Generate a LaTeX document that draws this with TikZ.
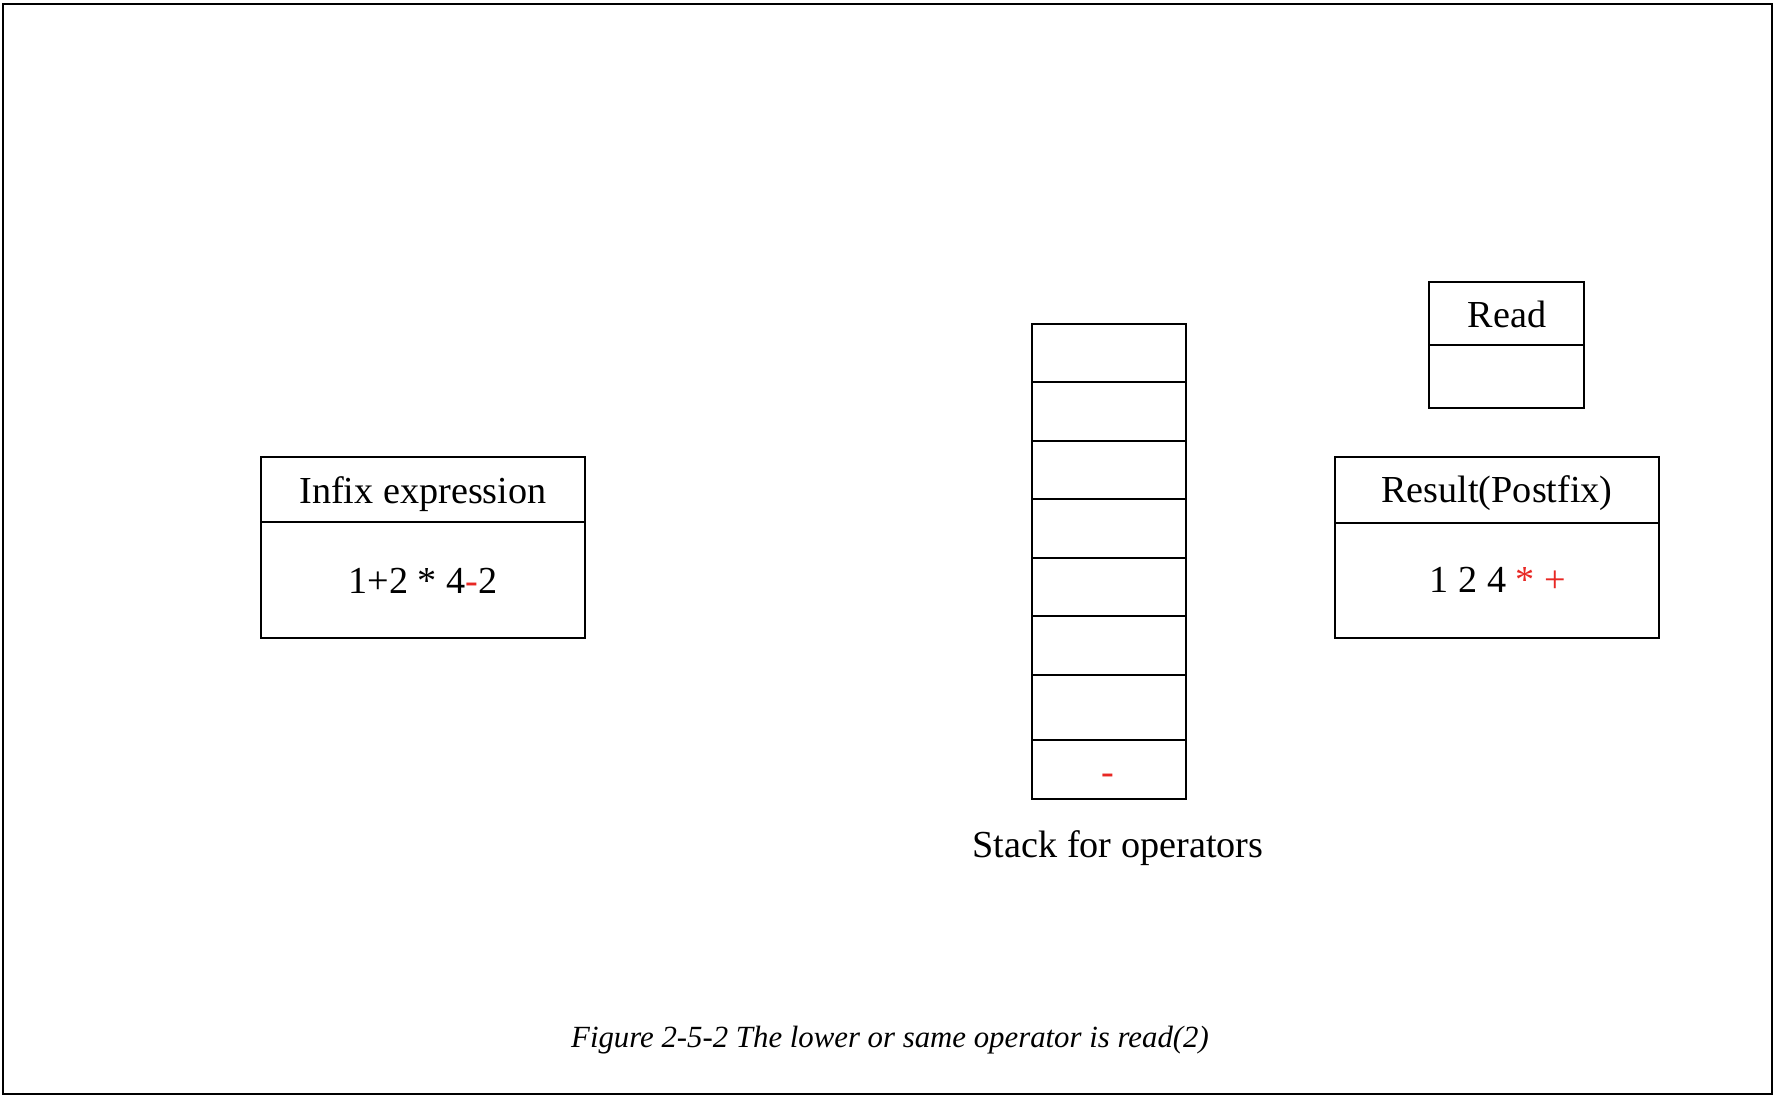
\documentclass[tikz,border=0pt]{standalone}
\usepackage{fontspec}
\setmainfont{Liberation Serif}
\definecolor{opred}{RGB}{232,40,36}
\newcommand\mainsz{\fontsize{19.1pt}{23pt}\selectfont}
\newcommand\capsz{\fontsize{15.4pt}{18pt}\selectfont}
\begin{document}
\begin{tikzpicture}[x=0.5pt,y=-0.5pt,
  box/.style={draw, line width=1pt, inner sep=0pt, outer sep=0pt},
  txt/.style={inner sep=0pt, anchor=base, font=\mainsz},
  captxt/.style={inner sep=0pt, anchor=base, font=\capsz\itshape}]
\useasboundingbox (0,0) rectangle (1774,1096);
% outer frame
\node[box, minimum width=884.5pt, minimum height=545pt] (frame) at (887.5,549) {};
% infix expression box
\node[box, minimum width=162pt, minimum height=32.5pt] (infixH) at (423,489.5) {};
\node[box, minimum width=162pt, minimum height=58pt] (infixB) at (423,580) {};
\node[txt] (infixT) at (423,504) {Infix expression};
\node[txt] (infixV) at (423,594) {1+2 * 4{\color{opred}-}2};
% read box
\node[box, minimum width=77.5pt, minimum height=31.5pt] (readH) at (1506.5,313.5) {};
\node[box, minimum width=77.5pt, minimum height=31.5pt] (readB) at (1506.5,376.5) {};
\node[txt] (readT) at (1507,328) {Read};
% result box
\node[box, minimum width=162pt, minimum height=33pt] (resH) at (1497,490) {};
\node[box, minimum width=162pt, minimum height=57.5pt] (resB) at (1497,580.5) {};
\node[txt] (resT) at (1497,503) {Result(Postfix)};
\node[txt] (resV) at (1498,593) {1 2 4 {\color{opred}* +}};
% stack
\node[box, minimum width=77pt, minimum height=29pt] (s1) at (1109,353) {};
\node[box, minimum width=77pt, minimum height=29.5pt] (s2) at (1109,411.5) {};
\node[box, minimum width=77pt, minimum height=29pt] (s3) at (1109,470) {};
\node[box, minimum width=77pt, minimum height=29.5pt] (s4) at (1109,528.5) {};
\node[box, minimum width=77pt, minimum height=29pt] (s5) at (1109,587) {};
\node[box, minimum width=77pt, minimum height=29.5pt] (s6) at (1109,645.5) {};
\node[box, minimum width=77pt, minimum height=32.5pt] (s7) at (1109,707.5) {};
\node[box, minimum width=77pt, minimum height=29.5pt] (s8) at (1109,769.5) {};
\node[txt, text=opred] (s8T) at (1108,784) {-};
\node[txt] (stackT) at (1118,857) {Stack for operators};
% caption
\node[captxt] (cap) at (890,1047) {Figure 2-5-2 The lower or same operator is read(2)};
\end{tikzpicture}
\end{document}
